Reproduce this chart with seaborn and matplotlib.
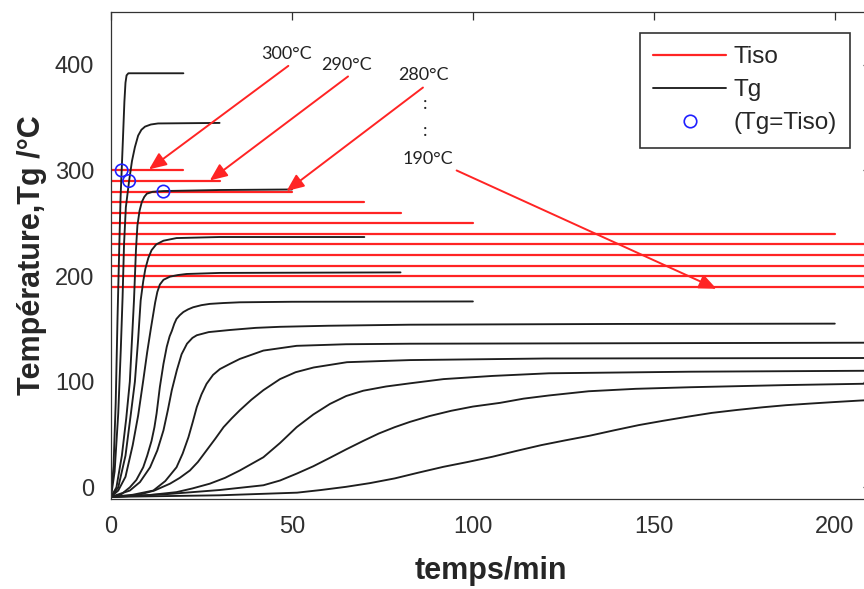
import numpy as np
import pandas as pd
import seaborn as sns
import matplotlib.pyplot as plt
from matplotlib.lines import Line2D

# isothermal cure temperatures (°C) and how far each red line runs (min)
tiso = [300, 290, 280, 270, 260, 250, 240, 230, 220, 210, 200, 190]
tiso_end = [20, 30, 50, 70, 80, 100, 200, 215, 215, 215, 215, 215]

# Tg(t) curves, one per Tiso
t_300 = [0, 0.7, 1.3, 1.8, 2.3, 2.65, 2.95, 3.3, 3.7, 4.0, 4.3, 4.8, 20]
tg_300 = [-9, 20, 80, 160, 230, 275, 300, 330, 365, 383, 390, 392, 392]
t_290 = [0, 1, 2, 2.7, 3.2, 3.6, 4.1, 5, 5.8, 6.6, 7.5, 8.4, 9.4, 11, 13, 30]
tg_290 = [-9, 15, 70, 130, 180, 230, 265, 290, 309, 322, 333, 338.5, 341.5, 343.5, 344.5, 345]
t_280 = [0, 1.5, 3, 4.2, 5.2, 5.8, 6.35, 6.9, 7.3, 7.9, 8.5, 9.2, 9.9, 11.5, 14.5, 30, 50]
tg_280 = [-9, 0, 30, 65, 100, 140, 177, 225, 248, 262, 270, 275, 278, 279.8, 280.5, 281.5, 282]
t_270 = [0, 2, 4, 5.5, 6.6, 7.5, 8.2, 8.9, 9.5, 10.3, 11.2, 12.5, 14.5, 18.1, 30, 70]
tg_270 = [-9, 0, 30, 70, 100, 140, 177, 195, 207, 217, 224.5, 230, 233.5, 236, 237, 237]
t_260 = [0, 2, 4, 6, 7.5, 8.9, 10, 11, 12.2, 12.8, 13.5, 14.5, 16.3, 18.5, 20.9, 30, 80]
tg_260 = [-9, -3, 10, 40, 68, 101, 128, 150, 175, 185, 192, 196.5, 199.5, 201, 202, 203, 203.5]
t_250 = [0, 2.5, 5.2, 7, 8.9, 10, 11.2, 12, 12.6, 13.5, 14.5, 15.4, 16.2, 16.8,
         17.5, 18.1, 19, 20, 21.3, 22.7, 25, 27.3, 31, 35.6, 50, 100]
tg_250 = [-9, -7.5, 0, 7, 19, 30, 44, 57, 70, 95, 117, 133, 143, 148,
          155, 159.5, 163, 166, 168.5, 170.5, 172.5, 173.7, 174.5, 175.2, 175.7, 176]
t_240 = [0, 5.2, 8, 10.8, 12.8, 14.5, 15.7, 16.8, 18.2, 19.5, 21, 22.5, 23.7,
         27, 32.9, 40, 46.7, 60, 82.6, 140, 200]
tg_240 = [-9, -3, 5, 19, 35, 54, 73, 92, 111, 126, 136, 141.5, 144,
          147, 149, 151, 152, 153, 154, 154.7, 155]
t_230 = [0, 6, 11.7, 15, 18.1, 19.8, 21.4, 22.6, 23.7, 25, 26.4, 28.2, 30.1,
         32.9, 35.6, 42.1, 51.3, 65, 82.6, 150, 215]
tg_230 = [-9, -7, -3, 6, 19, 32, 47.5, 62, 76, 88, 98, 106.5, 112,
          117, 121.6, 129.5, 134, 135.5, 136, 136.5, 137]
t_220 = [0, 7.1, 12, 16.3, 19, 21.8, 24, 26.4, 28.8, 31.1, 33.4, 35.6, 38.8,
         42.1, 46.7, 51, 56, 65.2, 82.6, 120, 215]
tg_220 = [-9, -7.5, -3, 3.5, 9, 16, 24, 35, 46, 57, 65.5, 73, 83,
          92, 102.5, 109, 113.5, 118.5, 120.5, 122, 122.5]
t_210 = [0, 10, 18.1, 22.5, 27.3, 31.5, 35.6, 42.1, 46.7, 51.3, 55.9, 60.5,
         65, 69.7, 76, 82.6, 91.9, 105.4, 121, 160, 215]
tg_210 = [-9, -7.5, -4.5, -1, 3.5, 9, 16, 28.5, 42, 57, 69, 79,
          86.5, 91.5, 95.5, 98.5, 102.5, 105.5, 108, 109.5, 110.5]
t_200 = [0, 15, 30, 42.1, 46.7, 51.3, 55.9, 60.5, 65, 69.7, 74, 78.4, 82.6,
         88, 94, 100, 107.5, 114, 121, 132, 145, 160, 186, 215]
tg_200 = [-9, -6.5, -2.5, 2, 6.5, 13, 20, 28, 36, 44, 51, 57, 62,
          67.5, 72.5, 76.5, 80, 84, 87, 91, 93.3, 94.8, 96.8, 98.5]
t_190 = [0, 30, 51.4, 58, 64.9, 71.5, 78.4, 85, 91.9, 98.5, 105.4, 112, 118.9,
         125.5, 132.4, 139, 145.9, 152.5, 159.5, 166, 173, 180, 186.5, 193,
         200, 207, 215]
tg_190 = [-9, -7.5, -5, -2.5, 0.5, 4, 8.5, 14, 19.5, 24, 29, 34.5, 40,
          44.5, 49, 54, 59, 63, 67, 70.5, 73.3, 75.8, 77.8, 79.3,
          80.8, 82.2, 83.5]

# points where Tg reaches Tiso
circ_t = [2.95, 5.0, 14.5]
circ_tg = [300, 290, 280]

curves = {
    300: (t_300, tg_300), 290: (t_290, tg_290), 280: (t_280, tg_280),
    270: (t_270, tg_270), 260: (t_260, tg_260), 250: (t_250, tg_250),
    240: (t_240, tg_240), 230: (t_230, tg_230), 220: (t_220, tg_220),
    210: (t_210, tg_210), 200: (t_200, tg_200), 190: (t_190, tg_190),
}

rows = []
for T, (tt, gg) in curves.items():
    rows += [(T, a, b) for a, b in zip(tt, gg)]
tg_df = pd.DataFrame(rows, columns=["tiso", "temps", "tg"])

iso_rows = []
for T, end in zip(tiso, tiso_end):
    iso_rows += [(T, 0, T), (T, end, T)]
iso_df = pd.DataFrame(iso_rows, columns=["tiso", "temps", "tg"])

sns.set_theme(style="white")
plt.rcParams["font.family"] = ["Liberation Sans", "DejaVu Sans"]

fig = plt.figure(figsize=(8.64, 5.89), dpi=100)
ax = fig.add_axes([111 / 864, 90 / 589, 760 / 864, 487 / 589])

sns.lineplot(data=iso_df, x="temps", y="tg", units="tiso", estimator=None,
             color="#ff2424", lw=1.6, ax=ax, legend=False)
sns.lineplot(data=tg_df, x="temps", y="tg", units="tiso", estimator=None,
             color="#1e1e1e", lw=1.35, ax=ax, legend=False, sort=True)
sns.scatterplot(x=circ_t, y=circ_tg, marker="o", s=80, color="blue",
                facecolor="none", edgecolor="#1f1fff", linewidth=1.2, ax=ax, zorder=5)

ax.set_xlim(0, 210)
ax.set_ylim(-11, 450)
ax.set_xticks([0, 50, 100, 150, 200])
ax.set_yticks([0, 100, 200, 300, 400])
ax.tick_params(direction="in", length=6, width=0.9, colors="#303030",
               labelsize=17, top=True, right=True, pad=12)
ax.tick_params(axis="x", pad=12)
for s in ax.spines.values():
    s.set_color("#333333")
    s.set_linewidth(0.9)

ax.set_xlabel("temps/min", fontsize=22, fontweight="bold", color="#262626", labelpad=13)
ax.set_ylabel("Température,Tg /°C", fontsize=22, fontweight="bold", color="#262626", labelpad=6)

# labels and arrows pointing at the isotherms
arrow = dict(arrowstyle="-|>,head_length=0.7,head_width=0.3", color="#ff2424",
             lw=1.4, mutation_scale=15, shrinkA=0, shrinkB=0)
txt = dict(fontsize=13, family=["Lato", "DejaVu Sans"], color="#222222",
           ha="center", va="center")
ax.annotate("", xy=(10.5, 301), xytext=(49, 399), arrowprops=arrow)
ax.annotate("", xy=(27.3, 290.5), xytext=(65.5, 389), arrowprops=arrow)
ax.annotate("", xy=(48.5, 280.5), xytext=(86.2, 378.5), arrowprops=arrow)
ax.annotate("", xy=(167.3, 188), xytext=(95.5, 300), arrowprops=arrow)
ax.text(48.5, 410, "300°C", **txt)
ax.text(65, 400, "290°C", **txt)
ax.text(86.3, 390.5, "280°C", **txt)
ax.text(86.7, 363, ":", **txt)
ax.text(86.7, 337.5, ":", **txt)
ax.text(87.6, 311, "190°C", **txt)

handles = [
    Line2D([], [], color="#ff2424", lw=1.6),
    Line2D([], [], color="#1e1e1e", lw=1.35),
    Line2D([], [], ls="none", marker="o", mfc="none", mec="#1f1fff", ms=9, mew=1.2),
]
leg = ax.legend(handles, ["Tiso", "Tg", "(Tg=Tiso)"], loc="upper right",
                bbox_to_anchor=(0.9724, 0.9569), borderaxespad=0, fontsize=17.5,
                handlelength=3.0, handletextpad=0.3, labelspacing=0.45,
                fancybox=False, framealpha=1, borderpad=0.55)
leg.get_frame().set_edgecolor("#333333")
leg.get_frame().set_linewidth(1.2)

fig.savefig("out.png", dpi=100)
